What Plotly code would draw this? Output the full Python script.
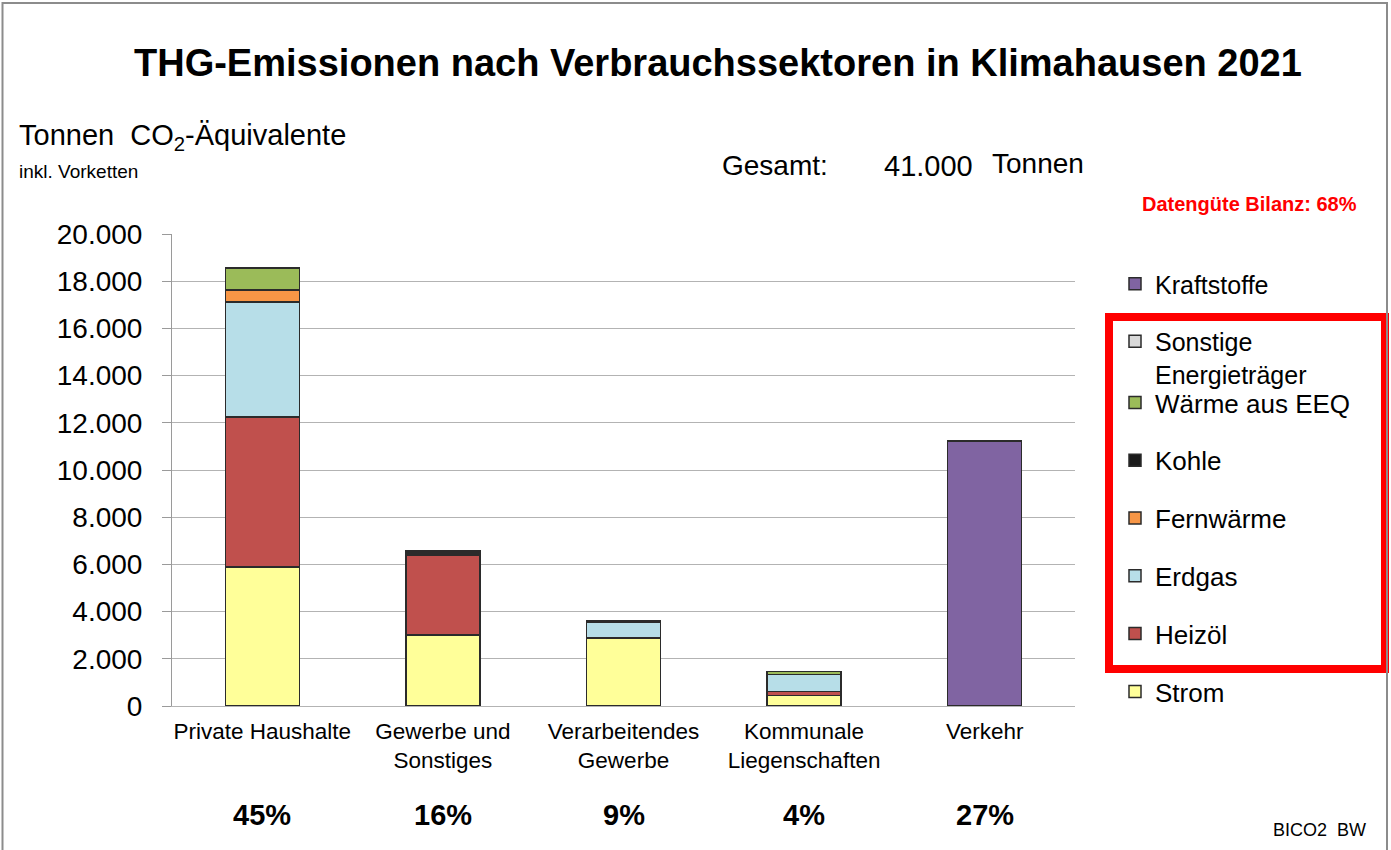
import plotly.graph_objects as go

categories = ["Private Haushalte", "Gewerbe und<br>Sonstiges", "Verarbeitendes<br>Gewerbe",
              "Kommunale<br>Liegenschaften", "Verkehr"]
percent_labels = ["45%", "16%", "9%", "4%", "27%"]

strom = [5900, 3000, 2880, 440, 0]
heizoel = [6350, 3400, 0, 170, 0]
erdgas = [4870, 90, 680, 730, 0]
fernwaerme = [510, 0, 0, 0, 0]
kohle = [0, 80, 40, 0, 0]
waerme_eeq = [930, 0, 0, 130, 0]
sonstige = [0, 0, 0, 0, 0]
kraftstoffe = [0, 0, 0, 0, 11230]

series = [
    ("Strom", strom, "#FFFF99", "legend"),
    ("Heizöl", heizoel, "#C0504D", "legend"),
    ("Erdgas", erdgas, "#B7DEE8", "legend"),
    ("Fernwärme", fernwaerme, "#F79646", "legend"),
    ("Kohle", kohle, "#1A1A1A", "legend"),
    ("Wärme aus EEQ", waerme_eeq, "#9BBB59", "legend"),
    ("Sonstige<br>Energieträger", sonstige, "#D9D9D9", "legend2"),
    ("Kraftstoffe", kraftstoffe, "#8064A2", "legend2"),
]

W, H = 1391, 850
L, R, T, B = 172, 1075, 234, 706


def px(x):
    return (x - L) / (R - L)


def py(y):
    return (B - y) / (B - T)


FONT = "Liberation Sans, Arial, sans-serif"

fig = go.Figure()
for i, (name, vals, color, lg) in enumerate(series):
    fig.add_trace(go.Bar(
        x=categories, y=vals, name=name, legend=lg, legendgroup=name,
        legendrank=100 - i,
        marker=dict(color=color, line=dict(color="#2b2b2b", width=1.5)),
    ))

fig.update_layout(
    width=W, height=H,
    margin=dict(l=L, r=W - R, t=T, b=H - B),
    barmode="stack", bargap=0.59,
    paper_bgcolor="white", plot_bgcolor="white",
    font=dict(family=FONT, color="black"),
    showlegend=True,
    legend=dict(x=px(1115), xanchor="left", y=py(379), yanchor="top",
                traceorder="grouped", tracegroupgap=21,
                font=dict(size=26, family=FONT), itemwidth=30,
                bgcolor="rgba(0,0,0,0)"),
    legend2=dict(x=px(1115), xanchor="left", y=py(261), yanchor="top",
                 traceorder="grouped", tracegroupgap=22, valign="top",
                 font=dict(size=25, family=FONT), itemwidth=30,
                 bgcolor="rgba(0,0,0,0)"),
    separators=",.",
)

fig.update_yaxes(range=[0, 20000], dtick=2000, tickformat=",d",
                 showgrid=True, gridcolor="#b3b3b3", gridwidth=1,
                 zeroline=False, showline=True, linecolor="#9a9a9a", linewidth=1,
                 ticks="outside", ticklen=9, tickcolor="#9a9a9a",
                 tickfont=dict(size=28, family=FONT), ticklabelstandoff=14)
fig.update_xaxes(showline=True, linecolor="#b3b3b3", linewidth=1,
                 tickfont=dict(size=22.5, family=FONT), ticklabelstandoff=5)

annotations = [
    dict(text="<b>THG-Emissionen nach Verbrauchssektoren in Klimahausen 2021</b>",
         x=px(718), y=py(63), font=dict(size=38)),
    dict(text="Tonnen  CO<sub>2</sub>-Äquivalente", x=px(17), y=py(137),
         xanchor="left", font=dict(size=29)),
    dict(text="inkl. Vorketten", x=px(17), y=py(171), xanchor="left",
         font=dict(size=19)),
    dict(text="Gesamt:", x=px(720), y=py(165), xanchor="left", font=dict(size=28)),
    dict(text="41.000", x=px(882), y=py(166), xanchor="left", font=dict(size=29)),
    dict(text="Tonnen", x=px(990), y=py(163), xanchor="left", font=dict(size=28)),
    dict(text="<b>Datengüte Bilanz: 68%</b>", x=px(1140), y=py(204), xanchor="left",
         font=dict(size=20, color="#FF0000")),
    dict(text="BICO2  BW", x=px(1368), y=py(830), xanchor="right", font=dict(size=18)),
]
for cat, lab in zip(categories, percent_labels):
    annotations.append(dict(text="<b>" + lab + "</b>", x=cat, xref="x", y=py(815),
                            yref="paper", font=dict(size=29), showarrow=False))

for a in annotations:
    a.setdefault("xref", "paper")
    a.setdefault("yref", "paper")
    a.setdefault("showarrow", False)
    a.setdefault("yanchor", "middle")
fig.update_layout(annotations=annotations)

fig.add_shape(type="rect", xref="paper", yref="paper",
              x0=px(1109), x1=px(1385), y0=py(669), y1=py(317),
              line=dict(color="#FF0000", width=8), fillcolor="rgba(0,0,0,0)")
fig.add_shape(type="rect", xref="paper", yref="paper",
              x0=px(2.5), x1=px(1387), y0=py(855), y1=py(3),
              line=dict(color="#8c8c8c", width=2), fillcolor="rgba(0,0,0,0)")

fig.write_html("out.html", config={"displayModeBar": False},
               post_script="document.body.style.margin='0';document.body.style.overflow='hidden';")
